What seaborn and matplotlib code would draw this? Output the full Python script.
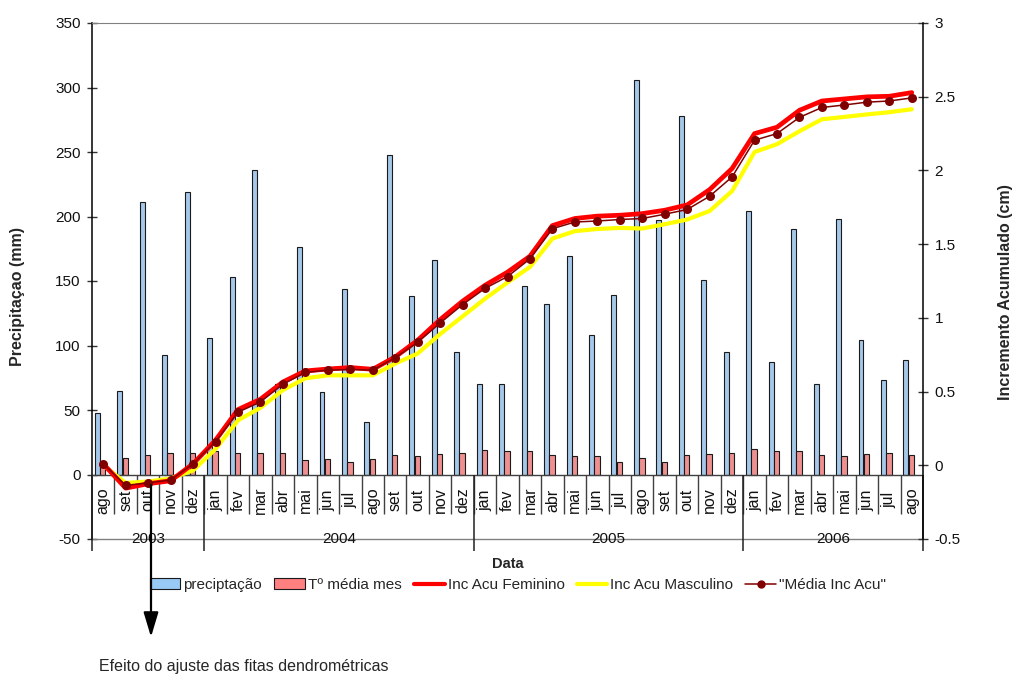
import numpy as np
import pandas as pd
import matplotlib
matplotlib.use('Agg')
import matplotlib.pyplot as plt
from matplotlib import font_manager
from matplotlib.patches import Patch, FancyArrowPatch
from matplotlib.lines import Line2D
import seaborn as sns

# meses de ago/2003 a ago/2006
meses = ['ago', 'set', 'out', 'nov', 'dez',
         'jan', 'fev', 'mar', 'abr', 'mai', 'jun', 'jul', 'ago', 'set', 'out', 'nov', 'dez',
         'jan', 'fev', 'mar', 'abr', 'mai', 'jun', 'jul', 'ago', 'set', 'out', 'nov', 'dez',
         'jan', 'fev', 'mar', 'abr', 'mai', 'jun', 'jul', 'ago']
anos = ['2003', '2004', '2005', '2006']
meses_por_ano = [5, 12, 12, 8]

precipitacao = [48, 65, 211, 93, 219,
                106, 153, 236, 70, 176, 64, 144, 41, 248, 138, 166, 95,
                70, 70, 146, 132, 169, 108, 139, 306, 197, 278, 151, 95,
                204, 87, 190, 70, 198, 104, 73, 89]
temp_media = [9, 13, 15, 17, 17,
              18, 17, 17, 17, 11, 12, 10, 12, 15, 14, 16, 17,
              19, 18, 18, 15, 14, 14, 10, 13, 10, 15, 16, 17,
              20, 18, 18, 15, 14, 16, 17, 15]
inc_feminino = [0.01, -0.155, -0.125, -0.105, 0.01,
                0.17, 0.378, 0.448, 0.565, 0.64, 0.653, 0.663, 0.651, 0.735, 0.848, 0.988, 1.113,
                1.221, 1.31, 1.418, 1.626, 1.674, 1.69, 1.696, 1.707, 1.73, 1.766, 1.87, 2.013,
                2.25, 2.293, 2.408, 2.471, 2.485, 2.499, 2.503, 2.528]
inc_masculino = [0.0, -0.12, -0.11, -0.09, -0.035,
                 0.11, 0.305, 0.39, 0.51, 0.59, 0.61, 0.61, 0.61, 0.69, 0.758, 0.89, 1.01,
                 1.13, 1.24, 1.345, 1.538, 1.588, 1.603, 1.61, 1.606, 1.635, 1.667, 1.725, 1.86,
                 2.125, 2.178, 2.266, 2.347, 2.363, 2.38, 2.395, 2.415]
media_inc = [0.01, -0.136, -0.12, -0.10, 0.01,
             0.16, 0.36, 0.43, 0.55, 0.63, 0.645, 0.65, 0.645, 0.73, 0.835, 0.965, 1.09,
             1.20, 1.28, 1.40, 1.605, 1.65, 1.657, 1.667, 1.674, 1.703, 1.735, 1.825, 1.956,
             2.205, 2.25, 2.36, 2.427, 2.444, 2.463, 2.471, 2.492]

dados = pd.DataFrame({'pos': np.arange(len(meses)), 'mes': meses,
                      'precipitacao': precipitacao, 'temp': temp_media,
                      'fem': inc_feminino, 'masc': inc_masculino, 'media': media_inc})

sns.set_style('white')
nomes = {f.name for f in font_manager.fontManager.ttflist}
estreita = 'Liberation Sans Narrow' if 'Liberation Sans Narrow' in nomes else 'Liberation Sans'
plt.rcParams['font.family'] = [estreita, 'DejaVu Sans']
plt.rcParams['axes.unicode_minus'] = False

cor_azul = '#99c9f5'
cor_rosa = '#ff8080'
cor_fem = '#ff0000'
cor_masc = '#ffff00'
cor_media = '#800000'

fig = plt.figure(figsize=(10.13, 6.8), dpi=100)
ax = fig.add_axes([92 / 1013, 1 - 539 / 680, 831 / 1013, 516 / 680])

# barras: precipitação e temperatura média
sns.barplot(x=dados['pos'] - 0.26, y=dados['precipitacao'], native_scale=True, width=0.22,
            color=cor_azul, edgecolor='#1a1a1a', linewidth=0.8, errorbar=None, ax=ax, zorder=2)
sns.barplot(x=dados['pos'] - 0.02, y=dados['temp'], native_scale=True, width=0.24,
            color=cor_rosa, edgecolor='#1a1a1a', linewidth=0.8, errorbar=None, ax=ax, zorder=2)

ax.set_xlim(-0.5, len(meses) - 0.5)
ax.set_ylim(-50, 350)
ax.set_yticks(range(-50, 351, 50))
ax.set_xticks([])
ax.set_xlabel('')
ax.set_ylabel('')
ax.tick_params(axis='y', direction='inout', length=6.5, width=1, color='#333333',
               labelsize=11, pad=5, labelcolor='#111111')

ax.spines['right'].set_visible(False)
ax.spines['bottom'].set_visible(False)
ax.spines['top'].set_color('#808080')
ax.spines['left'].set_color('#000000')
ax.spines['left'].set_linewidth(1.1)
ax.axhline(0, color='#404040', lw=1, zorder=3)
ax.axhline(-50, color='#808080', lw=1, clip_on=False, zorder=1)

# eixo de categorias (mes / ano)
ax.vlines(np.arange(len(meses) - 1) + 0.5, -31, 0, color='#404040', lw=1, zorder=3)
limites = np.concatenate([[0], np.cumsum(meses_por_ano)]) - 0.5
ax.vlines(limites, -59, 0, color='#202020', lw=1.1, clip_on=False, zorder=3)
for i, m in enumerate(meses):
    ax.text(i, -20, m, rotation=90, ha='center', va='center', fontsize=11.5,
            family=['Liberation Sans', 'DejaVu Sans'], color='#111111')
for a, ini, fim in zip(anos, limites[:-1], limites[1:]):
    ax.text((ini + fim) / 2, -50, a, ha='center', va='center', fontsize=11, color='#111111')

# eixo secundário: incremento acumulado
ax2 = ax.twinx()
sns.lineplot(data=dados, x='pos', y='masc', color=cor_masc, lw=3, ax=ax2, legend=False)
sns.lineplot(data=dados, x='pos', y='fem', color=cor_fem, lw=3.4, ax=ax2, legend=False)
sns.lineplot(data=dados, x='pos', y='media', color=cor_media, lw=1.1, marker='o',
             markersize=6.5, markeredgewidth=0, ax=ax2, legend=False)
ax2.set_ylim(-0.5, 3)
ax2.set_yticks(np.arange(-0.5, 3.01, 0.5))
ax2.set_yticklabels([f'{v:g}' for v in np.arange(-0.5, 3.01, 0.5)])
ax2.set_xlabel('')
ax2.set_ylabel('')
ax2.tick_params(axis='y', direction='inout', length=6.5, width=1, color='#333333',
                labelsize=11, pad=5, labelcolor='#111111')
for lado in ['left', 'top', 'bottom']:
    ax2.spines[lado].set_visible(False)
ax2.spines['right'].set_color('#000000')
ax2.spines['right'].set_linewidth(1.1)

# títulos dos eixos
fig.text(18 / 1013, 1 - 297 / 680, 'Precipitaçao (mm)', rotation=90, ha='center', va='center',
         fontsize=11.5, fontweight='bold', family=['Liberation Sans', 'DejaVu Sans'])
fig.text(1005 / 1013, 1 - 292 / 680, 'Incremento Acumulado (cm)', rotation=90, ha='center',
         va='center', fontsize=11.5, fontweight='bold', family=['Liberation Sans', 'DejaVu Sans'])
fig.text(508 / 1013, 1 - 564 / 680, 'Data', ha='center', va='center', fontsize=10.5,
         fontweight='bold', zorder=1)

# legenda
handles = [Patch(facecolor=cor_azul, edgecolor='#1a1a1a', lw=0.8),
           Patch(facecolor=cor_rosa, edgecolor='#1a1a1a', lw=0.8),
           Line2D([], [], color=cor_fem, lw=3),
           Line2D([], [], color=cor_masc, lw=3),
           Line2D([], [], color=cor_media, lw=1.1, marker='o', markersize=5)]
rotulos = ['preciptação', 'Tº média mes', 'Inc Acu Feminino', 'Inc Acu Masculino', '"Média Inc Acu"']
leg = fig.legend(handles, rotulos, loc='center', bbox_to_anchor=(518 / 1013, 1 - 585 / 680),
                 ncol=5, frameon=True, facecolor='white', edgecolor='none', framealpha=1,
                 fontsize=11, handlelength=2.0, handletextpad=0.2, columnspacing=0.8,
                 borderpad=0.3)
leg.set_zorder(5)

# seta (por cima da legenda) e nota
seta = FancyArrowPatch((151 / 1013, 1 - 485 / 680), (151 / 1013, 1 - 637 / 680),
                       transform=fig.transFigure, arrowstyle='-|>,head_width=4.5,head_length=15',
                       color='black', lw=1.6, shrinkA=0, shrinkB=0, zorder=6)
fig.add_artist(seta)
fig.text(99 / 1013, 1 - 667 / 680, 'Efeito do ajuste das fitas dendrométricas', ha='left',
         va='center', fontsize=11.5)

fig.savefig('out.png', dpi=100)
